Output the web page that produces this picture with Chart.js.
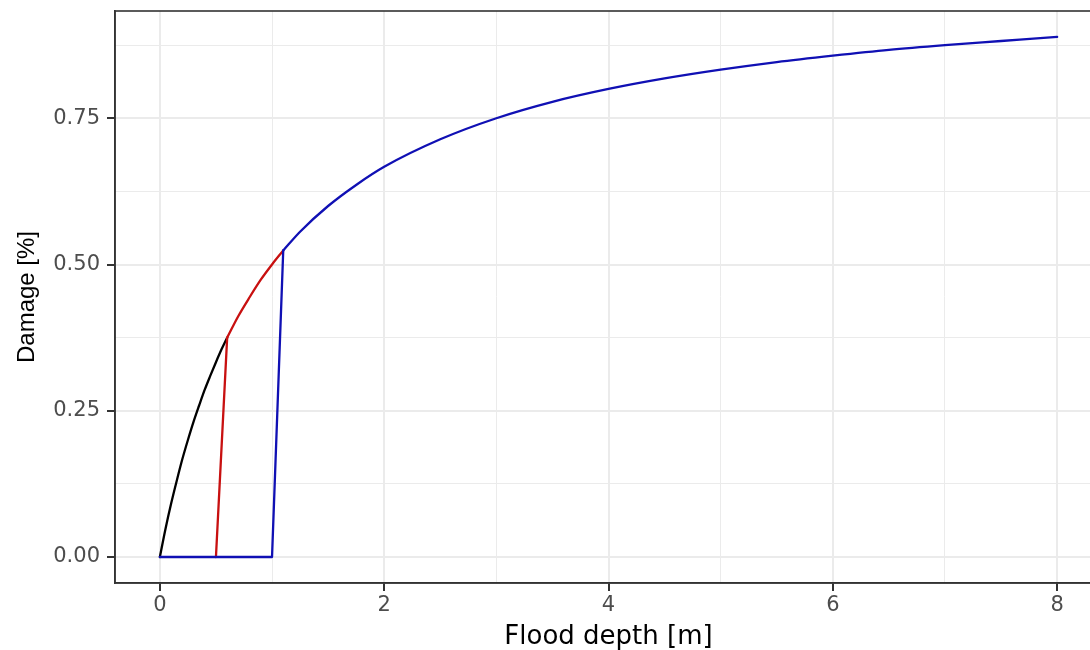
<!DOCTYPE html>
<html>
<head>
<meta charset="utf-8">
<script src="https://cdn.jsdelivr.net/npm/chart.js@4/dist/chart.umd.min.js"></script>
<style>
  html, body { margin: 0; padding: 0; overflow: hidden; background: #ffffff; }
  #wrap { width: 1110px; height: 650px; position: relative; }
</style>
</head>
<body>
<div id="wrap"><canvas id="chart"></canvas></div>
<script>
// Depth-damage curves: flood depth [m] vs relative damage.
// Each curve is a straight rise from zero followed by a smooth damage curve.

// Black curve (smooth from the origin)
const blackDepth  = [0, 0.05, 0.1, 0.15, 0.2, 0.25, 0.3, 0.35, 0.4, 0.45, 0.5, 0.55, 0.6];
const blackDamage = [0, 0.048, 0.091, 0.130, 0.167, 0.200, 0.231, 0.259, 0.286, 0.310, 0.333, 0.355, 0.375];

// Red curve: straight rise, then smooth part
const redRiseDepth  = [0.5, 0.6];
const redRiseDamage = [0, 0.375];
const redCurveDepth  = [0.6, 0.7, 0.8, 0.9, 1.0, 1.1];
const redCurveDamage = [0.375, 0.412, 0.444, 0.474, 0.500, 0.524];

// Blue curve: flat at zero, straight rise, then smooth part
const blueRiseDepth  = [0, 1.0, 1.1];
const blueRiseDamage = [0, 0, 0.524];
const blueCurveDepth  = [1.1, 1.25, 1.5, 1.75, 2.0, 2.5, 3.0, 3.5, 4.0, 4.5, 5.0, 5.5, 6.0, 6.5, 7.0, 7.5, 8.0];
const blueCurveDamage = [0.524, 0.556, 0.600, 0.636, 0.667, 0.714, 0.750, 0.778, 0.800, 0.818, 0.833, 0.846, 0.857, 0.867, 0.875, 0.882, 0.889];

// Axis ticks: labelled (major) and unlabelled (minor) grid positions
const xMajorTicks = [0, 2, 4, 6, 8];
const xMinorTicks = [1, 3, 5, 7];
const yMajorTicks = [0, 0.25, 0.5, 0.75];
const yMinorTicks = [0.125, 0.375, 0.625, 0.875];

const xLimits = [-0.4, 8.4];
const yLimits = [-0.0444, 0.9333];

const xTitle = 'Flood depth [m]';
const yTitle = 'Damage [%]';

const blueColor = '#1010B4';
const redColor = '#C81010';
const blackColor = '#000000';

function toPoints(xs, ys) {
  return xs.map((x, i) => ({ x: x, y: ys[i] }));
}

function allTicks(major, minor) {
  return major.concat(minor).sort((a, b) => a - b).map(v => ({ value: v }));
}

const isMajor = (list, v) => list.some(m => Math.abs(m - v) < 1e-9);

const gridColor = '#EBEBEB';
const axisColor = '#333333';
const labelColor = '#4D4D4D';

// Panel border drawn on top of the plotting area
const panelBorder = {
  id: 'panelBorder',
  afterDatasetsDraw(chart) {
    const { ctx, chartArea: a } = chart;
    ctx.save();
    ctx.strokeStyle = axisColor;
    ctx.lineWidth = 1.6;
    ctx.strokeRect(a.left, a.top, a.right - a.left, a.bottom - a.top);
    ctx.restore();
  }
};

function line(label, xs, ys, color, order, smooth) {
  return {
    label: label,
    data: toPoints(xs, ys),
    borderColor: color,
    borderWidth: 2.3,
    pointRadius: 0,
    showLine: true,
    fill: false,
    order: order,
    borderJoinStyle: 'round',
    borderCapStyle: 'round',
    cubicInterpolationMode: smooth ? 'monotone' : 'default',
    tension: 0
  };
}

// Scale edges follow the panel exactly (no extra label padding)
function noEdgePadding(s) {
  s.paddingTop = 0;
  s.paddingBottom = 0;
  s.paddingLeft = 0;
  s.paddingRight = 0;
}

new Chart(document.getElementById('chart'), {
  type: 'scatter',
  data: {
    datasets: [
      line('blue rise', blueRiseDepth, blueRiseDamage, blueColor, 0, false),
      line('blue curve', blueCurveDepth, blueCurveDamage, blueColor, 0, true),
      line('red rise', redRiseDepth, redRiseDamage, redColor, 1, false),
      line('red curve', redCurveDepth, redCurveDamage, redColor, 1, true),
      line('black', blackDepth, blackDamage, blackColor, 2, true)
    ]
  },
  plugins: [panelBorder],
  options: {
    responsive: true,
    maintainAspectRatio: false,
    animation: false,
    layout: { padding: { left: 0, top: 11, right: 8, bottom: 0 } },
    plugins: {
      legend: { display: false },
      tooltip: { enabled: false }
    },
    scales: {
      x: {
        type: 'linear',
        position: 'bottom',
        min: xLimits[0],
        max: xLimits[1],
        afterBuildTicks: s => { s.ticks = allTicks(xMajorTicks, xMinorTicks); },
        afterFit: s => { s.height = 67; noEdgePadding(s); },
        ticks: {
          padding: 2,
          color: labelColor,
          font: { family: 'DejaVu Sans', size: 21 },
          maxRotation: 0,
          autoSkip: false,
          callback: v => (isMajor(xMajorTicks, v) ? String(v) : '')
        },
        grid: {
          color: gridColor,
          lineWidth: c => (c.tick && isMajor(xMajorTicks, c.tick.value) ? 2 : 1),
          tickLength: 8,
          tickColor: c => (c.tick && isMajor(xMajorTicks, c.tick.value) ? axisColor : 'rgba(0,0,0,0)'),
          tickWidth: 2
        },
        border: { display: true, color: axisColor, width: 1.6 },
        title: {
          display: true,
          text: xTitle,
          color: '#000000',
          font: { family: 'DejaVu Sans', size: 26, lineHeight: 1 },
          padding: { top: 0, bottom: 0 }
        }
      },
      y: {
        type: 'linear',
        min: yLimits[0],
        max: yLimits[1],
        afterBuildTicks: s => { s.ticks = allTicks(yMajorTicks, yMinorTicks); },
        afterFit: s => { s.width = 115; noEdgePadding(s); },
        ticks: {
          padding: 7,
          color: labelColor,
          font: { family: 'DejaVu Sans', size: 21 },
          autoSkip: false,
          callback: v => (isMajor(yMajorTicks, v) ? v.toFixed(2) : '')
        },
        grid: {
          color: gridColor,
          lineWidth: c => (c.tick && isMajor(yMajorTicks, c.tick.value) ? 2 : 1),
          tickLength: 8,
          tickColor: c => (c.tick && isMajor(yMajorTicks, c.tick.value) ? axisColor : 'rgba(0,0,0,0)'),
          tickWidth: 2
        },
        border: { display: true, color: axisColor, width: 1.6 },
        title: {
          display: true,
          text: yTitle,
          color: '#000000',
          font: { family: 'Liberation Sans', size: 24, lineHeight: 1 },
          padding: { top: 15, bottom: 0 }
        }
      }
    }
  }
});
</script>
</body>
</html>
